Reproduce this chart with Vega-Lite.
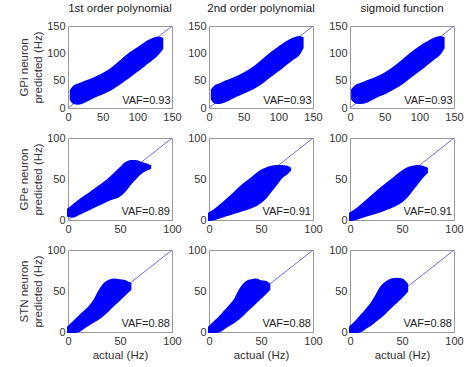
{
  "$schema": "https://vega.github.io/schema/vega-lite/v6.json",
  "padding": {"left": 18, "top": 2, "right": 0, "bottom": 0},
  "datasets": {
    "band": [
      {"p":"GPi1","x":4,"y":15,"y2":32},{"p":"GPi1","x":8,"y":9,"y2":39},{"p":"GPi1","x":15,"y":8,"y2":43},{"p":"GPi1","x":25,"y":12,"y2":48},{"p":"GPi1","x":37,"y":20,"y2":54},{"p":"GPi1","x":50,"y":27,"y2":62},{"p":"GPi1","x":62,"y":34,"y2":71},{"p":"GPi1","x":75,"y":45,"y2":85},{"p":"GPi1","x":86,"y":55,"y2":97},{"p":"GPi1","x":100,"y":68,"y2":109},{"p":"GPi1","x":110,"y":78,"y2":118},{"p":"GPi1","x":120,"y":88,"y2":125},{"p":"GPi1","x":130,"y":99,"y2":129},{"p":"GPi1","x":136,"y":109,"y2":127},
      {"p":"GPi2","x":4,"y":16,"y2":33},{"p":"GPi2","x":8,"y":10,"y2":39},{"p":"GPi2","x":15,"y":9,"y2":43},{"p":"GPi2","x":25,"y":13,"y2":49},{"p":"GPi2","x":37,"y":21,"y2":55},{"p":"GPi2","x":50,"y":28,"y2":63},{"p":"GPi2","x":62,"y":35,"y2":72},{"p":"GPi2","x":75,"y":45,"y2":85},{"p":"GPi2","x":86,"y":56,"y2":97},{"p":"GPi2","x":100,"y":69,"y2":110},{"p":"GPi2","x":110,"y":79,"y2":119},{"p":"GPi2","x":120,"y":89,"y2":126},{"p":"GPi2","x":130,"y":99,"y2":130},{"p":"GPi2","x":135,"y":110,"y2":128},
      {"p":"GPi3","x":3,"y":16,"y2":33},{"p":"GPi3","x":8,"y":10,"y2":40},{"p":"GPi3","x":15,"y":9,"y2":44},{"p":"GPi3","x":25,"y":12,"y2":49},{"p":"GPi3","x":37,"y":20,"y2":55},{"p":"GPi3","x":50,"y":27,"y2":63},{"p":"GPi3","x":62,"y":35,"y2":73},{"p":"GPi3","x":75,"y":45,"y2":86},{"p":"GPi3","x":86,"y":56,"y2":98},{"p":"GPi3","x":100,"y":69,"y2":111},{"p":"GPi3","x":110,"y":79,"y2":119},{"p":"GPi3","x":120,"y":89,"y2":126},{"p":"GPi3","x":130,"y":100,"y2":130},{"p":"GPi3","x":135,"y":110,"y2":128},
      {"p":"GPe1","x":0,"y":5,"y2":13},{"p":"GPe1","x":5,"y":4,"y2":18},{"p":"GPe1","x":10,"y":7,"y2":23},{"p":"GPe1","x":20,"y":13,"y2":32},{"p":"GPe1","x":30,"y":19,"y2":41},{"p":"GPe1","x":40,"y":25,"y2":51},{"p":"GPe1","x":50,"y":30,"y2":63},{"p":"GPe1","x":55,"y":36,"y2":69},{"p":"GPe1","x":60,"y":44,"y2":72},{"p":"GPe1","x":65,"y":51,"y2":72},{"p":"GPe1","x":70,"y":57,"y2":70},{"p":"GPe1","x":75,"y":61,"y2":68},{"p":"GPe1","x":79,"y":63,"y2":66},
      {"p":"GPe2","x":0,"y":0,"y2":8},{"p":"GPe2","x":5,"y":1,"y2":12},{"p":"GPe2","x":10,"y":3,"y2":17},{"p":"GPe2","x":20,"y":7,"y2":28},{"p":"GPe2","x":30,"y":11,"y2":40},{"p":"GPe2","x":40,"y":15,"y2":50},{"p":"GPe2","x":50,"y":22,"y2":60},{"p":"GPe2","x":55,"y":28,"y2":63},{"p":"GPe2","x":60,"y":36,"y2":65},{"p":"GPe2","x":65,"y":44,"y2":66},{"p":"GPe2","x":70,"y":52,"y2":66},{"p":"GPe2","x":75,"y":57,"y2":65},{"p":"GPe2","x":78,"y":61,"y2":63},
      {"p":"GPe3","x":0,"y":0,"y2":8},{"p":"GPe3","x":5,"y":1,"y2":12},{"p":"GPe3","x":10,"y":3,"y2":17},{"p":"GPe3","x":20,"y":7,"y2":28},{"p":"GPe3","x":30,"y":11,"y2":39},{"p":"GPe3","x":40,"y":16,"y2":49},{"p":"GPe3","x":50,"y":23,"y2":59},{"p":"GPe3","x":55,"y":29,"y2":63},{"p":"GPe3","x":60,"y":37,"y2":65},{"p":"GPe3","x":65,"y":45,"y2":66},{"p":"GPe3","x":70,"y":53,"y2":65},{"p":"GPe3","x":74,"y":58,"y2":63},
      {"p":"STN1","x":0,"y":0,"y2":6},{"p":"STN1","x":5,"y":0,"y2":12},{"p":"STN1","x":10,"y":1,"y2":18},{"p":"STN1","x":15,"y":5,"y2":24},{"p":"STN1","x":20,"y":9,"y2":30},{"p":"STN1","x":25,"y":13,"y2":38},{"p":"STN1","x":30,"y":17,"y2":50},{"p":"STN1","x":35,"y":22,"y2":59},{"p":"STN1","x":40,"y":28,"y2":63},{"p":"STN1","x":45,"y":34,"y2":64},{"p":"STN1","x":50,"y":40,"y2":63},{"p":"STN1","x":55,"y":46,"y2":62},{"p":"STN1","x":60,"y":52,"y2":59},
      {"p":"STN2","x":0,"y":0,"y2":6},{"p":"STN2","x":5,"y":0,"y2":12},{"p":"STN2","x":10,"y":1,"y2":18},{"p":"STN2","x":15,"y":5,"y2":25},{"p":"STN2","x":20,"y":9,"y2":32},{"p":"STN2","x":25,"y":13,"y2":40},{"p":"STN2","x":30,"y":18,"y2":52},{"p":"STN2","x":35,"y":24,"y2":60},{"p":"STN2","x":40,"y":30,"y2":63},{"p":"STN2","x":45,"y":36,"y2":64},{"p":"STN2","x":50,"y":42,"y2":62},{"p":"STN2","x":55,"y":48,"y2":61},{"p":"STN2","x":58,"y":52,"y2":58},
      {"p":"STN3","x":0,"y":0,"y2":6},{"p":"STN3","x":5,"y":0,"y2":12},{"p":"STN3","x":10,"y":1,"y2":19},{"p":"STN3","x":15,"y":5,"y2":26},{"p":"STN3","x":20,"y":9,"y2":34},{"p":"STN3","x":25,"y":14,"y2":44},{"p":"STN3","x":30,"y":19,"y2":55},{"p":"STN3","x":35,"y":25,"y2":61},{"p":"STN3","x":40,"y":31,"y2":64},{"p":"STN3","x":45,"y":37,"y2":65},{"p":"STN3","x":50,"y":43,"y2":64},{"p":"STN3","x":55,"y":50,"y2":58}
    ],
    "diag": [
      {"p":"GPi1","x":0,"y":0},{"p":"GPi1","x":150,"y":150},
      {"p":"GPi2","x":0,"y":0},{"p":"GPi2","x":150,"y":150},
      {"p":"GPi3","x":0,"y":0},{"p":"GPi3","x":150,"y":150},
      {"p":"GPe1","x":0,"y":0},{"p":"GPe1","x":100,"y":100},
      {"p":"GPe2","x":0,"y":0},{"p":"GPe2","x":100,"y":100},
      {"p":"GPe3","x":0,"y":0},{"p":"GPe3","x":100,"y":100},
      {"p":"STN1","x":0,"y":0},{"p":"STN1","x":100,"y":100},
      {"p":"STN2","x":0,"y":0},{"p":"STN2","x":100,"y":100},
      {"p":"STN3","x":0,"y":0},{"p":"STN3","x":100,"y":100}
    ],
    "vaf": [
      {"p":"GPi1","x":148,"y":8,"t":"VAF=0.93"},
      {"p":"GPi2","x":148,"y":8,"t":"VAF=0.93"},
      {"p":"GPi3","x":148,"y":8,"t":"VAF=0.93"},
      {"p":"GPe1","x":98,"y":6,"t":"VAF=0.89"},
      {"p":"GPe2","x":98,"y":6,"t":"VAF=0.91"},
      {"p":"GPe3","x":98,"y":6,"t":"VAF=0.91"},
      {"p":"STN1","x":98,"y":6,"t":"VAF=0.88"},
      {"p":"STN2","x":98,"y":6,"t":"VAF=0.88"},
      {"p":"STN3","x":98,"y":6,"t":"VAF=0.88"}
    ]
  },
  "spacing": 7,
  "vconcat": [
    {"spacing": 37, "bounds": "flush", "hconcat": [
      {"width":104,"height":82,"title":"1st order polynomial",
       "encoding":{"x":{"field":"x","type":"quantitative","scale":{"domain":[0,150],"nice":false},"axis":{"values":[0,50,100,150],"title":null}},
                   "y":{"field":"y","type":"quantitative","scale":{"domain":[0,150],"nice":false},"axis":{"values":[0,50,100,150],"title":["GPi neuron","predicted (Hz)"]}}},
       "layer":[
         {"data":{"name":"diag"},"transform":[{"filter":"datum.p=='GPi1'"}],"mark":{"type":"line","color":"#6f6fe0","strokeWidth":1},"encoding":{}},
         {"data":{"name":"band"},"transform":[{"filter":"datum.p=='GPi1'"}],"mark":{"type":"area","color":"#0000ff","stroke":"#0000ff","strokeWidth":2,"interpolate":"monotone"},"encoding":{"y2":{"field":"y2"}}},
         {"data":{"name":"vaf"},"transform":[{"filter":"datum.p=='GPi1'"}],"mark":{"type":"text","align":"right","baseline":"alphabetic","fontSize":11,"color":"#222"},"encoding":{"text":{"field":"t"}}}
       ]},
      {"width":104,"height":82,"title":"2nd order polynomial",
       "encoding":{"x":{"field":"x","type":"quantitative","scale":{"domain":[0,150],"nice":false},"axis":{"values":[0,50,100,150],"title":null}},
                   "y":{"field":"y","type":"quantitative","scale":{"domain":[0,150],"nice":false},"axis":{"values":[0,50,100,150],"title":null}}},
       "layer":[
         {"data":{"name":"diag"},"transform":[{"filter":"datum.p=='GPi2'"}],"mark":{"type":"line","color":"#6f6fe0","strokeWidth":1},"encoding":{}},
         {"data":{"name":"band"},"transform":[{"filter":"datum.p=='GPi2'"}],"mark":{"type":"area","color":"#0000ff","stroke":"#0000ff","strokeWidth":2,"interpolate":"monotone"},"encoding":{"y2":{"field":"y2"}}},
         {"data":{"name":"vaf"},"transform":[{"filter":"datum.p=='GPi2'"}],"mark":{"type":"text","align":"right","baseline":"alphabetic","fontSize":11,"color":"#222"},"encoding":{"text":{"field":"t"}}}
       ]},
      {"width":104,"height":82,"title":"sigmoid function",
       "encoding":{"x":{"field":"x","type":"quantitative","scale":{"domain":[0,150],"nice":false},"axis":{"values":[0,50,100,150],"title":null}},
                   "y":{"field":"y","type":"quantitative","scale":{"domain":[0,150],"nice":false},"axis":{"values":[0,50,100,150],"title":null}}},
       "layer":[
         {"data":{"name":"diag"},"transform":[{"filter":"datum.p=='GPi3'"}],"mark":{"type":"line","color":"#6f6fe0","strokeWidth":1},"encoding":{}},
         {"data":{"name":"band"},"transform":[{"filter":"datum.p=='GPi3'"}],"mark":{"type":"area","color":"#0000ff","stroke":"#0000ff","strokeWidth":2,"interpolate":"monotone"},"encoding":{"y2":{"field":"y2"}}},
         {"data":{"name":"vaf"},"transform":[{"filter":"datum.p=='GPi3'"}],"mark":{"type":"text","align":"right","baseline":"alphabetic","fontSize":11,"color":"#222"},"encoding":{"text":{"field":"t"}}}
       ]}
    ]},
    {"spacing": 37, "bounds": "flush", "hconcat": [
      {"width":104,"height":82,
       "encoding":{"x":{"field":"x","type":"quantitative","scale":{"domain":[0,100],"nice":false},"axis":{"values":[0,50,100],"title":null}},
                   "y":{"field":"y","type":"quantitative","scale":{"domain":[0,100],"nice":false},"axis":{"values":[0,50,100],"title":["GPe neuron","predicted (Hz)"]}}},
       "layer":[
         {"data":{"name":"diag"},"transform":[{"filter":"datum.p=='GPe1'"}],"mark":{"type":"line","color":"#6f6fe0","strokeWidth":1},"encoding":{}},
         {"data":{"name":"band"},"transform":[{"filter":"datum.p=='GPe1'"}],"mark":{"type":"area","color":"#0000ff","stroke":"#0000ff","strokeWidth":2,"interpolate":"monotone"},"encoding":{"y2":{"field":"y2"}}},
         {"data":{"name":"vaf"},"transform":[{"filter":"datum.p=='GPe1'"}],"mark":{"type":"text","align":"right","baseline":"alphabetic","fontSize":11,"color":"#222"},"encoding":{"text":{"field":"t"}}}
       ]},
      {"width":104,"height":82,
       "encoding":{"x":{"field":"x","type":"quantitative","scale":{"domain":[0,100],"nice":false},"axis":{"values":[0,50,100],"title":null}},
                   "y":{"field":"y","type":"quantitative","scale":{"domain":[0,100],"nice":false},"axis":{"values":[0,50,100],"title":null}}},
       "layer":[
         {"data":{"name":"diag"},"transform":[{"filter":"datum.p=='GPe2'"}],"mark":{"type":"line","color":"#6f6fe0","strokeWidth":1},"encoding":{}},
         {"data":{"name":"band"},"transform":[{"filter":"datum.p=='GPe2'"}],"mark":{"type":"area","color":"#0000ff","stroke":"#0000ff","strokeWidth":2,"interpolate":"monotone"},"encoding":{"y2":{"field":"y2"}}},
         {"data":{"name":"vaf"},"transform":[{"filter":"datum.p=='GPe2'"}],"mark":{"type":"text","align":"right","baseline":"alphabetic","fontSize":11,"color":"#222"},"encoding":{"text":{"field":"t"}}}
       ]},
      {"width":104,"height":82,
       "encoding":{"x":{"field":"x","type":"quantitative","scale":{"domain":[0,100],"nice":false},"axis":{"values":[0,50,100],"title":null}},
                   "y":{"field":"y","type":"quantitative","scale":{"domain":[0,100],"nice":false},"axis":{"values":[0,50,100],"title":null}}},
       "layer":[
         {"data":{"name":"diag"},"transform":[{"filter":"datum.p=='GPe3'"}],"mark":{"type":"line","color":"#6f6fe0","strokeWidth":1},"encoding":{}},
         {"data":{"name":"band"},"transform":[{"filter":"datum.p=='GPe3'"}],"mark":{"type":"area","color":"#0000ff","stroke":"#0000ff","strokeWidth":2,"interpolate":"monotone"},"encoding":{"y2":{"field":"y2"}}},
         {"data":{"name":"vaf"},"transform":[{"filter":"datum.p=='GPe3'"}],"mark":{"type":"text","align":"right","baseline":"alphabetic","fontSize":11,"color":"#222"},"encoding":{"text":{"field":"t"}}}
       ]}
    ]},
    {"spacing": 37, "bounds": "flush", "hconcat": [
      {"width":104,"height":82,
       "encoding":{"x":{"field":"x","type":"quantitative","scale":{"domain":[0,100],"nice":false},"axis":{"values":[0,50,100],"title":"actual (Hz)"}},
                   "y":{"field":"y","type":"quantitative","scale":{"domain":[0,100],"nice":false},"axis":{"values":[0,50,100],"title":["STN neuron","predicted (Hz)"]}}},
       "layer":[
         {"data":{"name":"diag"},"transform":[{"filter":"datum.p=='STN1'"}],"mark":{"type":"line","color":"#6f6fe0","strokeWidth":1},"encoding":{}},
         {"data":{"name":"band"},"transform":[{"filter":"datum.p=='STN1'"}],"mark":{"type":"area","color":"#0000ff","stroke":"#0000ff","strokeWidth":2,"interpolate":"monotone"},"encoding":{"y2":{"field":"y2"}}},
         {"data":{"name":"vaf"},"transform":[{"filter":"datum.p=='STN1'"}],"mark":{"type":"text","align":"right","baseline":"alphabetic","fontSize":11,"color":"#222"},"encoding":{"text":{"field":"t"}}}
       ]},
      {"width":104,"height":82,
       "encoding":{"x":{"field":"x","type":"quantitative","scale":{"domain":[0,100],"nice":false},"axis":{"values":[0,50,100],"title":"actual (Hz)"}},
                   "y":{"field":"y","type":"quantitative","scale":{"domain":[0,100],"nice":false},"axis":{"values":[0,50,100],"title":null}}},
       "layer":[
         {"data":{"name":"diag"},"transform":[{"filter":"datum.p=='STN2'"}],"mark":{"type":"line","color":"#6f6fe0","strokeWidth":1},"encoding":{}},
         {"data":{"name":"band"},"transform":[{"filter":"datum.p=='STN2'"}],"mark":{"type":"area","color":"#0000ff","stroke":"#0000ff","strokeWidth":2,"interpolate":"monotone"},"encoding":{"y2":{"field":"y2"}}},
         {"data":{"name":"vaf"},"transform":[{"filter":"datum.p=='STN2'"}],"mark":{"type":"text","align":"right","baseline":"alphabetic","fontSize":11,"color":"#222"},"encoding":{"text":{"field":"t"}}}
       ]},
      {"width":104,"height":82,
       "encoding":{"x":{"field":"x","type":"quantitative","scale":{"domain":[0,100],"nice":false},"axis":{"values":[0,50,100],"title":"actual (Hz)"}},
                   "y":{"field":"y","type":"quantitative","scale":{"domain":[0,100],"nice":false},"axis":{"values":[0,50,100],"title":null}}},
       "layer":[
         {"data":{"name":"diag"},"transform":[{"filter":"datum.p=='STN3'"}],"mark":{"type":"line","color":"#6f6fe0","strokeWidth":1},"encoding":{}},
         {"data":{"name":"band"},"transform":[{"filter":"datum.p=='STN3'"}],"mark":{"type":"area","color":"#0000ff","stroke":"#0000ff","strokeWidth":2,"interpolate":"monotone"},"encoding":{"y2":{"field":"y2"}}},
         {"data":{"name":"vaf"},"transform":[{"filter":"datum.p=='STN3'"}],"mark":{"type":"text","align":"right","baseline":"alphabetic","fontSize":11,"color":"#222"},"encoding":{"text":{"field":"t"}}}
       ]}
    ]}
  ],
  "config": {
    "font": "Liberation Sans",
    "view": {"stroke": "#999", "strokeWidth": 1},
    "axis": {"grid": false, "domain": false, "ticks": false, "labelFontSize": 11, "labelColor": "#333", "labelPadding": 3, "labelFlush": false, "labelOverlap": false, "labelFont": "Liberation Sans", "titleFont": "Liberation Sans", "titleFontSize": 11.5, "titleFontWeight": "normal", "titleColor": "#333"},
    "axisY": {"minExtent": 21, "maxExtent": 21, "titlePadding": 4},
    "axisX": {"minExtent": 15, "maxExtent": 15, "titlePadding": 2},
    "title": {"fontSize": 11.5, "fontWeight": "normal", "color": "#222", "offset": 6, "font": "Liberation Sans"}
  }
}
